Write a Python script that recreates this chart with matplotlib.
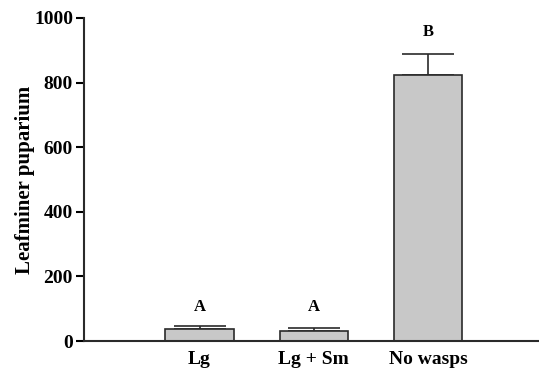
import matplotlib.pyplot as plt

# --- data
groups = ['Lg', 'Lg+Sm', 'No wasps']
means = [37, 32, 824]
errs = [9, 8, 64]
letters = ['A', 'A', 'B']
letter_y = [105, 105, 957]

plt.rcParams['font.family'] = ['Liberation Serif', 'DejaVu Serif']
plt.rcParams['font.weight'] = 'bold'

fig = plt.figure(figsize=(5.39, 3.72), dpi=100)
ax = fig.add_axes([0.156, 0.083, 0.844, 0.869])

x = list(range(len(groups)))
ax.bar(x, means, width=0.6, color='#c8c8c8', edgecolor='#2a2a2a', linewidth=1.2, zorder=2)
ax.errorbar(x, means, yerr=[[0]*len(errs), errs], fmt='none', ecolor='#2a2a2a',
            elinewidth=1.2, capsize=19, capthick=1.2, zorder=1)

for xi, lab, ly in zip(x, letters, letter_y):
    ax.text(xi, ly, lab, ha='center', va='center', fontsize=12, fontweight='bold')

ax.set_xlim(-1.01, 2.97)
ax.set_ylim(0, 1000)
ax.set_yticks([0, 200, 400, 600, 800, 1000])
ax.set_xticks(x)
ax.set_xticklabels(['Lg', 'Lg + Sm', 'No wasps'], fontsize=14, fontweight='bold')
ax.tick_params(axis='x', length=0, pad=7)
ax.tick_params(axis='y', length=6, width=1.5, labelsize=14, pad=2)
ax.set_ylabel('Leafminer puparium', fontsize=15, fontweight='bold', labelpad=-1)

for s in ['top', 'right']:
    ax.spines[s].set_visible(False)
for s in ['left', 'bottom']:
    ax.spines[s].set_linewidth(1.5)
    ax.spines[s].set_color('#2a2a2a')

fig.savefig('out.png', dpi=100)
